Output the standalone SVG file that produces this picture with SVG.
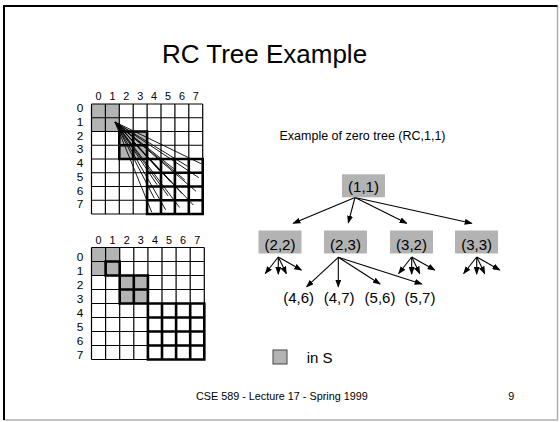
<svg xmlns="http://www.w3.org/2000/svg" width="560" height="422" viewBox="0 0 560 422">
<defs>
<style>
text{font-family:"Liberation Sans",Arial,sans-serif;fill:#000}
.lab{font-size:10.8px;text-anchor:middle}
.rlab{font-size:11.8px;text-anchor:middle}
.node{font-size:15px;text-anchor:middle}
.thin{fill:none;stroke:#000;stroke-width:1.2}
.thick{fill:none;stroke:#000;stroke-width:2.6}
.gray{fill:#b3b3b3;stroke:none}
.box{fill:#b3b3b3;stroke:none}
.ray{stroke:#000;stroke-width:0.9;fill:none}
.arr line{stroke:#000;stroke-width:1.1;marker-end:url(#ah)}
</style>
<marker id="ah" markerWidth="8" markerHeight="6" refX="7" refY="3" orient="auto" markerUnits="userSpaceOnUse">
<path d="M0,0 L8,3 L0,6 z" fill="#000"/>
</marker>
</defs>
<rect width="560" height="422" fill="#fff"/>
<path d="M557.5 6 V420 H4" fill="none" stroke="#b0b0b0" stroke-width="1.5"/>
<path d="M4 420 V6 H557.5" fill="none" stroke="#000" stroke-width="2"/>
<text x="264.5" y="63" font-size="26" text-anchor="middle">RC Tree Example</text>

<g id="grid-top">
<g class="lab">
<text x="98.5" y="100">0</text><text x="112.4" y="100">1</text><text x="126.3" y="100">2</text><text x="140.2" y="100">3</text><text x="154.1" y="100">4</text><text x="168" y="100">5</text><text x="181.9" y="100">6</text><text x="195.8" y="100">7</text>
</g>
<g class="rlab">
<text x="80" y="112">0</text><text x="80" y="125.8">1</text><text x="80" y="139.5">2</text><text x="80" y="153.3">3</text><text x="80" y="167">4</text><text x="80" y="180.8">5</text><text x="80" y="194.5">6</text><text x="80" y="208.3">7</text>
</g>
<rect class="gray" x="91.5" y="104" width="27.8" height="27.5"/>
<rect class="gray" x="119.3" y="131.5" width="27.8" height="27.5"/>
<path class="thin" d="M91.5 104V214M105.4 104V214M119.3 104V214M133.2 104V214M147.1 104V214M161 104V214M174.9 104V214M188.8 104V214M202.7 104V214M91.5 104H202.7M91.5 117.75H202.7M91.5 131.5H202.7M91.5 145.25H202.7M91.5 159H202.7M91.5 172.75H202.7M91.5 186.5H202.7M91.5 200.25H202.7M91.5 214H202.7"/>
<path class="thick" d="M119.3 131.5h27.8v27.5h-27.8zM133.2 131.5V159M119.3 145.25H147.1"/>
<path class="thick" d="M147.1 159h55.6v55h-55.6zM161 159V214M174.9 159V214M188.8 159V214M147.1 172.75H202.7M147.1 186.5H202.7M147.1 200.25H202.7"/>
<path class="ray" d="M115 122L159.6 170.8M115 122L173.5 168.5M115 122L187.4 166.2M115 122L201.3 163.8M115 122L157 184.6M115 122L170.9 182.2M115 122L184.8 179.9M115 122L198.7 177.6M115 122L154.3 198.3M115 122L168.2 196M115 122L182.1 193.7M115 122L196 191.3M115 122L151.7 212.1M115 122L165.6 209.7M115 122L179.5 207.4M115 122L193.4 205.1"/>
</g>

<g id="grid-bottom">
<g class="lab">
<text x="98.5" y="243.5">0</text><text x="112.6" y="243.5">1</text><text x="126.7" y="243.5">2</text><text x="140.8" y="243.5">3</text><text x="154.9" y="243.5">4</text><text x="169" y="243.5">5</text><text x="183.1" y="243.5">6</text><text x="197.2" y="243.5">7</text>
</g>
<g class="rlab">
<text x="80" y="260.5">0</text><text x="80" y="274.5">1</text><text x="80" y="288.5">2</text><text x="80" y="302.5">3</text><text x="80" y="316.5">4</text><text x="80" y="330.5">5</text><text x="80" y="344.5">6</text><text x="80" y="358.5">7</text>
</g>
<rect class="gray" x="91.5" y="247.5" width="28.2" height="28"/>
<rect class="gray" x="119.7" y="275.5" width="28.2" height="28"/>
<path class="thin" d="M91.5 247.5V359.5M105.6 247.5V359.5M119.7 247.5V359.5M133.8 247.5V359.5M147.9 247.5V359.5M162 247.5V359.5M176.1 247.5V359.5M190.2 247.5V359.5M204.3 247.5V359.5M91.5 247.5H204.3M91.5 261.5H204.3M91.5 275.5H204.3M91.5 289.5H204.3M91.5 303.5H204.3M91.5 317.5H204.3M91.5 331.5H204.3M91.5 345.5H204.3M91.5 359.5H204.3"/>
<path class="thick" d="M105.6 261.5h14.1v14h-14.1z"/>
<path class="thick" d="M119.7 275.5h28.2v28h-28.2zM133.8 275.5V303.5M119.7 289.5H147.9"/>
<path class="thick" d="M147.9 303.5h56.4v56h-56.4zM162 303.5V359.5M176.1 303.5V359.5M190.2 303.5V359.5M147.9 317.5H204.3M147.9 331.5H204.3M147.9 345.5H204.3"/>
</g>

<text x="279.5" y="140" font-size="12.5">Example of zero tree (RC,1,1)</text>

<g id="connectors" class="arr">
<line x1="355" y1="197.5" x2="293.3" y2="223.3"/>
<line x1="355" y1="197.5" x2="348.3" y2="222.7"/>
<line x1="355" y1="197.5" x2="406.7" y2="223.3"/>
<line x1="355" y1="197.5" x2="471.7" y2="223.3"/>
<line x1="278.3" y1="257" x2="265.3" y2="273.5"/>
<line x1="278.3" y1="257" x2="278.3" y2="274"/>
<line x1="278.3" y1="257" x2="286.3" y2="273.5"/>
<line x1="278.3" y1="257" x2="301.3" y2="270"/>
<line x1="338.3" y1="257.3" x2="306.7" y2="286.7"/>
<line x1="338.3" y1="257.3" x2="338.3" y2="286.7"/>
<line x1="338.3" y1="257.3" x2="380" y2="284"/>
<line x1="338.3" y1="257.3" x2="421.7" y2="284"/>
<line x1="411.7" y1="257" x2="398.7" y2="273.5"/>
<line x1="411.7" y1="257" x2="411.7" y2="274"/>
<line x1="411.7" y1="257" x2="419.7" y2="273.5"/>
<line x1="411.7" y1="257" x2="434.7" y2="270"/>
<line x1="476.7" y1="257" x2="463.7" y2="273.5"/>
<line x1="476.7" y1="257" x2="476.7" y2="274"/>
<line x1="476.7" y1="257" x2="484.7" y2="273.5"/>
<line x1="476.7" y1="257" x2="499.7" y2="270"/>
</g>

<g id="n11"><rect class="box" x="342" y="174.3" width="43" height="23"/><text class="node" x="363.5" y="192.3">(1,1)</text></g>
<g id="n22"><rect class="box" x="258.5" y="230.5" width="43" height="23"/><text class="node" x="280" y="250">(2,2)</text></g>
<g id="n23"><rect class="box" x="324" y="230.5" width="43" height="23"/><text class="node" x="345.5" y="250">(2,3)</text></g>
<g id="n32"><rect class="box" x="390" y="230.5" width="43" height="23"/><text class="node" x="411.5" y="250">(3,2)</text></g>
<g id="n33"><rect class="box" x="455" y="230.5" width="43" height="23"/><text class="node" x="476.7" y="250">(3,3)</text></g>
<g id="n46"><text class="node" x="298.7" y="303.3">(4,6)</text></g>
<g id="n47"><text class="node" x="339.2" y="303.3">(4,7)</text></g>
<g id="n56"><text class="node" x="380" y="303.3">(5,6)</text></g>
<g id="n57"><text class="node" x="420" y="303.3">(5,7)</text></g>

<g id="legend">
<rect x="273" y="350" width="14" height="14" fill="#b3b3b3" stroke="#444" stroke-width="1"/>
<text x="306.7" y="363.3" font-size="15">in S</text>
</g>

<text x="196" y="400" font-size="10.8">CSE 589 - Lecture 17 - Spring 1999</text>
<text x="508.3" y="400" font-size="10.8">9</text>
</svg>
